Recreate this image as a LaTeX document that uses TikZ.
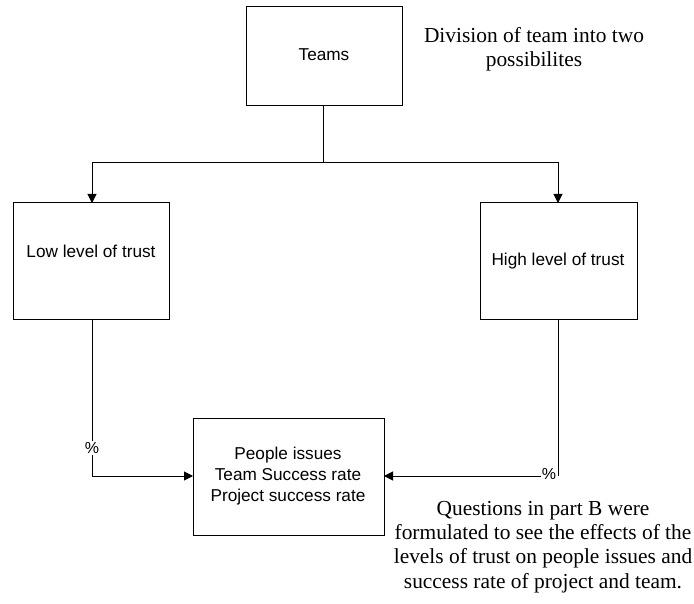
\documentclass[tikz,border=0pt]{standalone}
\usepackage{fontspec}
\setmainfont{Liberation Serif}
\setsansfont{Liberation Sans}
\usetikzlibrary{arrows.meta}
\begin{document}
\begin{tikzpicture}[x=1pt,y=-1pt,
  box/.style={draw,line width=1pt,rectangle},
  wire/.style={line width=1pt},
  arr/.style={wire,-{Triangle[length=9pt,width=9pt]}},
  lbl/.style={font=\sffamily\fontsize{17.2}{21}\selectfont,align=center},
  note/.style={font=\fontsize{21.4}{24.3}\selectfont,align=center},
  pct/.style={font=\sffamily\fontsize{16}{18}\selectfont,inner sep=1pt}]
\useasboundingbox (0,0) rectangle (694,604);

% boxes, drawn as rectangles with labels placed inside
\draw[box] (246,7) rectangle (402,106);
\node[lbl] (teams) at (324,55) {Teams};
\coordinate (teamsS) at (323,106);

\draw[box] (13,203) rectangle (169,320);
\node[lbl] (lowt) at (91,251) {Low level of trust};
\coordinate (lowN) at (92,203);
\coordinate (lowS) at (92,320);

\draw[box] (480,203) rectangle (637,320);
\node[lbl] (hight) at (558,261) {High level of trust};
\coordinate (highN) at (558,203);
\coordinate (highS) at (558,320);

\draw[box] (193,418) rectangle (384,535);
\node[lbl] (res) at (288,476) {People issues\\Team Success rate\\Project success rate};
\coordinate (resW) at (193,476);
\coordinate (resE) at (384,476);

% split from the team box to the two trust levels
\coordinate (split) at (323,163);
\draw[wire] (teamsS) -- (split);
\draw[arr] (split) -| (lowN);
\draw[arr] (split) -| (highN);

% percentage links into the outcome box
\node[pct] (pl) at (92,448) {\%};
\draw[wire] (lowS) -- (pl.north);
\draw[arr] (pl.south) |- (resW);

\node[pct] (pr) at (549,474) {\%};
\coordinate (hc) at (558,476);
\draw[wire] (highS) -- (hc);
\draw[arr] (pr.west |- resE) -- (resE);

% notes
\node[note] (n1) at (534,49) {Division of team into two\\possibilites};
\node[note] (n2) at (543,547) {Questions in part B were\\formulated to see the effects of the\\levels of trust on people issues and\\success rate of project and team.};
\end{tikzpicture}
\end{document}
